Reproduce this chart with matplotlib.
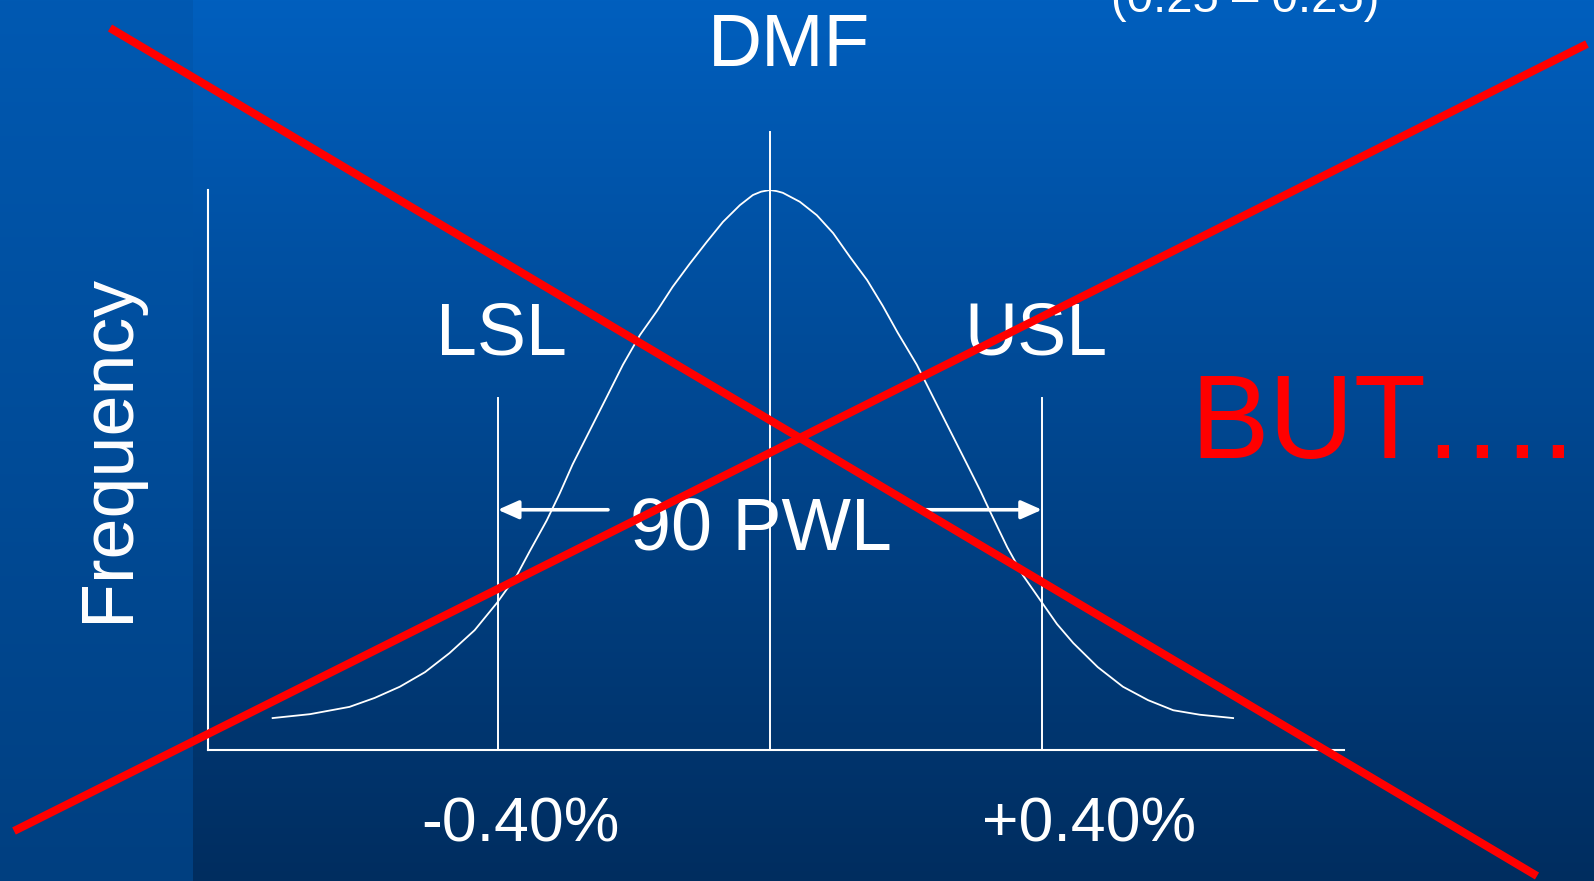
import numpy as np
import matplotlib
matplotlib.use("Agg")
import matplotlib.pyplot as plt

plt.rcParams['font.family'] = ['Liberation Sans', 'DejaVu Sans']

# ------------------- datos -------------------
# curva de frecuencia (x en %, y frecuencia relativa, 1.0 = tope del eje)
curva_x = [-0.731, -0.676, -0.618, -0.581, -0.544, -0.507, -0.471, -0.434,
           -0.401, -0.372, -0.353, -0.328, -0.309, -0.290, -0.265, -0.240,
           -0.216, -0.191, -0.166, -0.143, -0.118, -0.093, -0.069, -0.044,
           -0.025, -0.013, 0.0, 0.010, 0.019, 0.044, 0.069, 0.093, 0.118,
           0.143, 0.166, 0.188, 0.216, 0.240, 0.265, 0.290, 0.309, 0.324,
           0.349, 0.372, 0.399, 0.422, 0.446, 0.482, 0.519, 0.556, 0.593,
           0.632, 0.681]
curva_y = [0.057, 0.064, 0.077, 0.093, 0.113, 0.139, 0.173, 0.214,
           0.263, 0.312, 0.355, 0.410, 0.458, 0.510, 0.570, 0.630,
           0.688, 0.741, 0.784, 0.827, 0.868, 0.907, 0.943, 0.973,
           0.991, 0.997, 1.0, 0.998, 0.995, 0.979, 0.955, 0.923, 0.880,
           0.839, 0.793, 0.745, 0.688, 0.630, 0.570, 0.510, 0.464, 0.425,
           0.362, 0.312, 0.265, 0.225, 0.191, 0.148, 0.113, 0.089, 0.071,
           0.063, 0.057]

lsl, usl, dmf = -0.40, 0.40, 0.0
lim_altura = 0.629      # altura de las lineas LSL / USL
dmf_altura = 1.104      # la linea central sobresale del eje
flecha_y = 0.429
flecha_colas = [-0.238, 0.226]
etiquetas_x = ["-0.40%", "+0.40%"]
etiquetas_pos = [-0.366, 0.469]

# cruz roja (pixeles de la figura)
cruz_1 = ([110, 1537], [28, 876])
cruz_2 = ([14, 1587], [831, 44])

W, H = 1594, 881
fig = plt.figure(figsize=(W / 100, H / 100), dpi=100)

# ------------------- fondo degradado -------------------
fondo = fig.add_axes([0, 0, 1, 1])
fondo.set_axis_off()
t = np.linspace(0, 1, H)[:, None]
arriba = np.array([0, 95, 190]) / 255
abajo = np.array([0, 45, 95]) / 255
img = np.ones((H, W, 3)) * (arriba + (abajo - arriba) * t[:, :, None])
arriba_l = np.array([0, 89, 178]) / 255
abajo_l = np.array([0, 63, 128]) / 255
img[:, :193] = arriba_l + (abajo_l - arriba_l) * t[:, :, None]
fondo.imshow(img, aspect='auto', extent=[0, W, H, 0])
fondo.set_xlim(0, W)
fondo.set_ylim(H, 0)

# ------------------- grafico -------------------
ax = fig.add_axes([208 / W, 1 - 750 / H, (1344 - 208) / W, 560 / H])
ax.patch.set_alpha(0)
ax.set_xlim(-0.826, 0.844)
ax.set_ylim(0, 1)
for s in ['top', 'right']:
    ax.spines[s].set_visible(False)
for s in ['left', 'bottom']:
    ax.spines[s].set_color('white')
    ax.spines[s].set_linewidth(1.5)
ax.set_xticks([])
ax.set_yticks([])

ax.plot(curva_x, curva_y, color='white', lw=1.3, solid_joinstyle='round')
ax.plot([dmf, dmf], [0, dmf_altura], color='white', lw=1.4, clip_on=False)
ax.plot([lsl, lsl], [0, lim_altura], color='white', lw=1.4)
ax.plot([usl, usl], [0, lim_altura], color='white', lw=1.4)

for cola, punta in zip(flecha_colas, [lsl, usl]):
    ax.annotate('', xy=(punta, flecha_y), xytext=(cola, flecha_y),
                arrowprops=dict(arrowstyle='-|>,head_length=0.45,head_width=0.2',
                                mutation_scale=28, color='white', lw=2.6,
                                shrinkA=0, shrinkB=0))

ax.text(lsl + 0.006, 0.707, 'LSL', color='white', fontsize=53,
        ha='center', va='baseline')
ax.text(usl - 0.009, 0.707, 'USL', color='white', fontsize=53,
        ha='center', va='baseline')
ax.text(0.028, 1.221, 'DMF', color='white', fontsize=54,
        ha='center', va='baseline', clip_on=False)
ax.text(-0.0125, 0.357, '90 PWL', color='white', fontsize=53,
        ha='center', va='baseline')
for pos, lab in zip(etiquetas_pos, etiquetas_x):
    ax.text(pos, -0.1625, lab, color='white', fontsize=45,
            ha='center', va='baseline', clip_on=False)

# ------------------- textos sueltos y cruz -------------------
over = fig.add_axes([0, 0, 1, 1])
over.set_axis_off()
over.patch.set_alpha(0)
over.set_xlim(0, W)
over.set_ylim(H, 0)
over.text(128, 448, 'Frequency', color='white', fontsize=53, rotation=90,
          rotation_mode='anchor', ha='center', va='baseline')
over.text(1245, 12, '(0.25 \u2013 0.25)', color='white', fontsize=34,
          ha='center', va='baseline')
over.text(1190, 458, 'BUT', color='#ff0000', fontsize=85,
          ha='left', va='baseline')
for xp in [1426, 1465, 1505, 1541]:
    over.text(xp, 458, '.', color='#ff0000', fontsize=85,
              ha='left', va='baseline')
over.plot(*cruz_1, color='#ff0000', lw=5.8, solid_capstyle='butt')
over.plot(*cruz_2, color='#ff0000', lw=5.8, solid_capstyle='butt')

fig.savefig('out.png', dpi=100)
